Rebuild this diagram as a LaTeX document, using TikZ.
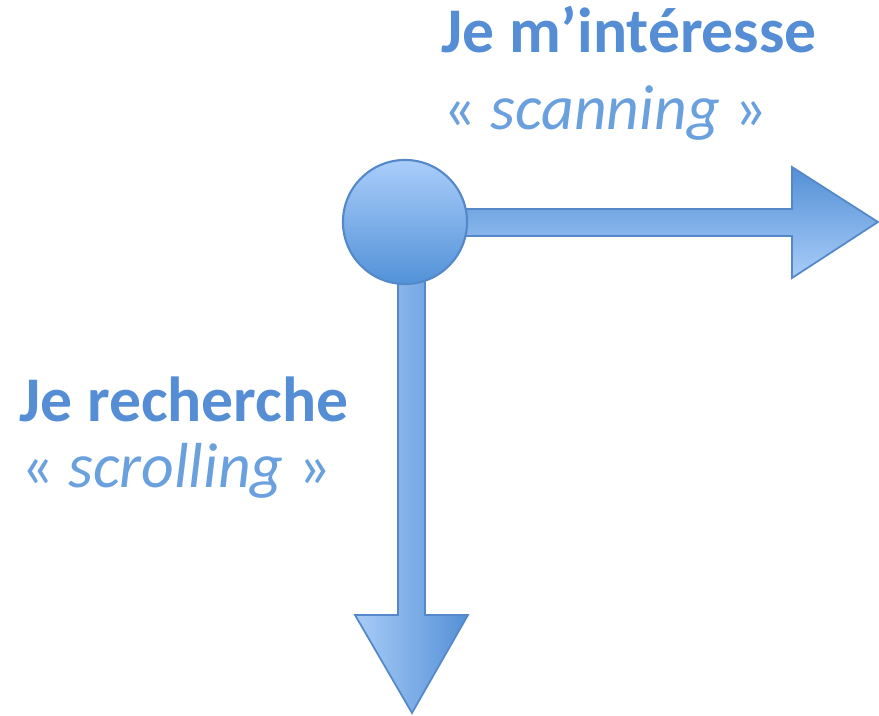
\documentclass[tikz,border=0pt]{standalone}
\usepackage{fontspec}
\setmainfont{Carlito}
\usepackage{tikz}
\definecolor{hublight}{RGB}{170,205,250}
\definecolor{hubdark}{RGB}{82,146,216}
\definecolor{arrowlight}{RGB}{168,204,248}
\definecolor{arrowdark}{RGB}{84,144,214}
\definecolor{rim}{RGB}{84,136,200}
\definecolor{titleblue}{RGB}{85,142,213}
\definecolor{subblue}{RGB}{106,160,222}
\tikzstyle{hub} = [circle, draw=rim, line width=0.6pt, minimum size=1.24cm, inner sep=0pt, top color=hublight, bottom color=hubdark]
\tikzstyle{shaftline} = [draw=rim, line width=0.5pt, line join=miter]
\tikzstyle{heading} = [anchor=base west, inner sep=0pt, text=titleblue, font=\fontsize{18.1}{22}\selectfont\bfseries]
\tikzstyle{subheading} = [anchor=base west, inner sep=0pt, text=subblue, font=\fontsize{18.1}{22}\selectfont]

\begin{document}
\begin{tikzpicture}[x=0.01cm, y=-0.01cm]
            \useasboundingbox (0,0) rectangle (879,716);
            % hub
            \coordinate (c) at (405,222);

            % arrows
            \draw[shaftline, left color=arrowlight, right color=arrowdark]
              (398,222) -- (398,615) -- (355,615) -- (412,713) -- (468,615) -- (425,615) -- (425,222) -- cycle;
            \draw[shaftline, top color=arrowdark, bottom color=arrowlight]
              (405,209) -- (792,209) -- (792,167) -- (878,222) -- (792,278) -- (792,236) -- (405,236) -- cycle;

            \node[hub] (n0) at (c) {};

            % texts
            \node[heading] (t1) at (441,53) {Je m’intéresse};
            \node[subheading] (s1) at (443,130) {« \textit{scanning} »};
            \node[heading] (t2) at (19,422) {Je recherche};
            \node[subheading] (s2) at (21,488) {« \textit{scrolling} »};
          \end{tikzpicture}
\end{document}
